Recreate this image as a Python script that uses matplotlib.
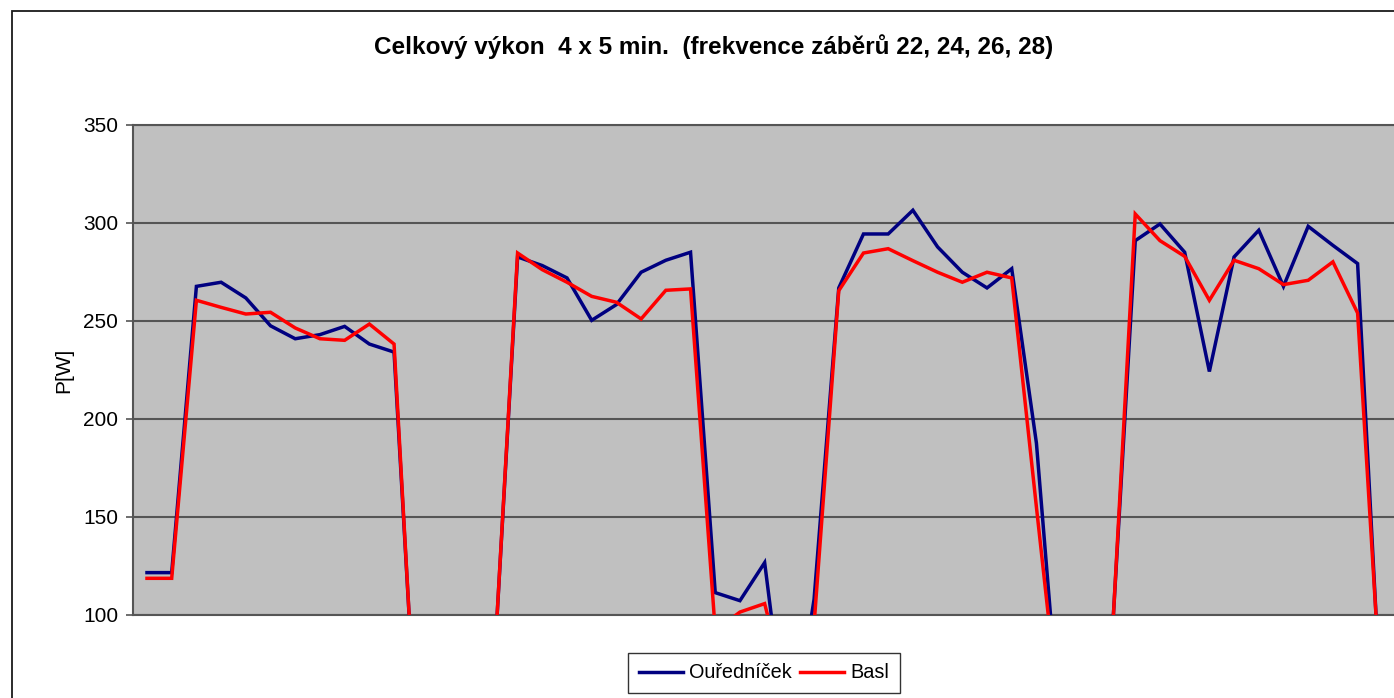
import matplotlib
matplotlib.use("Agg")
import matplotlib.pyplot as plt
from matplotlib.patches import Rectangle

# ---- data (sample index -> power [W]) ----
samples = list(range(51))
ouarednicek = [121.6, 121.6, 267.5, 269.6, 261.6, 247.4, 240.8, 242.9, 247.1, 238.1,
               234.0, 14.0, 20.0, 20.0, 62.0, 282.5, 278.1, 271.8, 250.2, 258.2,
               274.7, 280.8, 284.9, 111.4, 107.3, 126.7, 27.0, 108.0, 266.7, 294.2,
               294.2, 306.3, 287.6, 274.7, 266.7, 276.5, 187.6, 34.0, 20.0, 75.0,
               290.8, 299.3, 284.9, 224.1, 282.5, 296.1, 267.5, 298.1, 288.4, 279.1,
               39.0]
basl = [118.7, 118.7, 260.4, 256.8, 253.4, 254.3, 246.3, 240.8, 240.0, 248.3,
        238.1, 12.0, 20.0, 20.0, 62.0, 284.5, 276.0, 269.6, 262.4, 259.4,
        250.9, 265.5, 266.2, 92.0, 101.5, 105.8, 56.0, 95.0, 265.3, 284.5,
        286.7, 280.6, 274.7, 269.6, 274.7, 271.8, 155.0, 40.0, 20.0, 73.0,
        304.4, 290.8, 282.8, 260.4, 280.8, 276.5, 268.4, 270.6, 280.0, 253.9,
        47.0]
series_names = ["Ouředníček", "Basl"]
yticks = [100, 150, 200, 250, 300, 350]
title = "Celkový výkon  4 x 5 min.  (frekvence záběrů 22, 24, 26, 28)"
ylabel = "P[W]"

plt.rcParams['font.family'] = ['Liberation Sans', 'DejaVu Sans']

W, H = 1394, 698
fig = plt.figure(figsize=(W / 100, H / 100), dpi=100)

# outer chart border (extends past the right/bottom edges)
fig.patches.append(Rectangle((12 / W, -0.1), 1.2, 1 - 11 / H + 0.1,
                             transform=fig.transFigure, fill=False,
                             edgecolor='#1a1a1a', linewidth=1.3))

left_px, right_px, top_px, bot_px = 133.3, 1396.0, 124.5, 615.0
ax = fig.add_axes([left_px / W, 1 - bot_px / H,
                   (right_px - left_px) / W, (bot_px - top_px) / H])
ax.set_facecolor('#C0C0C0')

ax.plot(samples, ouarednicek, color='#000080', linewidth=2.5,
        label=series_names[0], solid_joinstyle='miter', zorder=3)
ax.plot(samples, basl, color='#FF0000', linewidth=2.5,
        label=series_names[1], solid_joinstyle='miter', zorder=4)

ax.set_ylim(100, 350)
ax.set_xlim(-0.554, 50.554)
ax.set_yticks(yticks)
ax.set_xticks([])
ax.yaxis.grid(True, color='#555555', linewidth=1.5)
ax.set_axisbelow(True)
for s in ['left', 'bottom', 'right', 'top']:
    ax.spines[s].set_color('#555555')
    ax.spines[s].set_linewidth(1.5)
ax.tick_params(axis='y', direction='out', length=5, width=1.2, color='#555555',
               labelsize=15, pad=6, labelcolor='black')

fig.text(64 / W, 1 - 370 / H, ylabel, rotation=90, ha='center', va='center',
         fontsize=15)
fig.text(714 / W, 1 - 47 / H, title, ha='center', va='center',
         fontsize=17.5, fontweight='bold')

leg = fig.legend(loc='center', bbox_to_anchor=(764 / W, 1 - 673 / H),
                 ncol=2, fontsize=14.3, frameon=True, fancybox=False,
                 edgecolor='black', handlelength=2.2, handletextpad=0.3,
                 columnspacing=0.45, borderpad=0.55, borderaxespad=0.0)
leg.get_frame().set_linewidth(1.0)

fig.savefig("out.png", dpi=100)
